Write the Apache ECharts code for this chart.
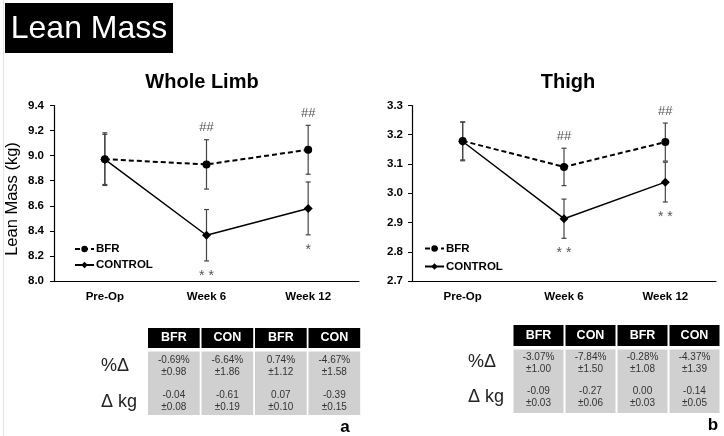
<!DOCTYPE html>
<html>
<head>
<meta charset="utf-8">
<script src="https://cdn.jsdelivr.net/npm/echarts@6/dist/echarts.min.js"></script>
<style>
html,body{margin:0;padding:0;background:#fff;}
#chart{width:724px;height:436px;}
</style>
</head>
<body>
<div id="chart"></div>
<script>
// ---------- data ----------
const categories = ['Pre-Op', 'Week 6', 'Week 12'];
const seriesNames = ['BFR', 'CONTROL'];

const limbBFR = [8.972, 8.930, 9.047];
const limbBFRerr = [0.210, 0.197, 0.195];
const limbCON = [8.970, 8.365, 8.579];
const limbCONerr = [0.200, 0.205, 0.211];
const limbTopMarks = ['', '##', '##'];
const limbBottomMarks = ['', '**', '*'];
const limbTicks = { min: 8.0, max: 9.4, interval: 0.2 };

const thighBFR = [3.179, 3.090, 3.175];
const thighBFRerr = [0.065, 0.064, 0.065];
const thighCON = [3.177, 2.913, 3.038];
const thighCONerr = [0.066, 0.067, 0.068];
const thighTopMarks = ['', '##', '##'];
const thighBottomMarks = ['', '**', '**'];
const thighTicks = { min: 2.7, max: 3.3, interval: 0.1 };

const tableHeaders = ['BFR', 'CON', 'BFR', 'CON'];
const rowLabels = ['%Δ', 'Δ kg'];
const limbPct = ['-0.69%', '-6.64%', '0.74%', '-4.67%'];
const limbPctSd = ['±0.98', '±1.86', '±1.12', '±1.58'];
const limbKg = ['-0.04', '-0.61', '0.07', '-0.39'];
const limbKgSd = ['±0.08', '±0.19', '±0.10', '±0.15'];
const thighPct = ['-3.07%', '-7.84%', '-0.28%', '-4.37%'];
const thighPctSd = ['±1.00', '±1.50', '±1.08', '±1.39'];
const thighKg = ['-0.09', '-0.27', '0.00', '-0.14'];
const thighKgSd = ['±0.03', '±0.06', '±0.03', '±0.05'];

// ---------- helpers ----------
const FONT = '"Liberation Sans", Arial, sans-serif';
const chart = echarts.init(document.getElementById('chart'), null, { renderer: 'canvas' });

function errData(mean, err) {
  return mean.map((m, i) => [i, m - err[i], m + err[i]]);
}
function errorSeries(idx, mean, err) {
  return {
    type: 'custom', xAxisIndex: idx, yAxisIndex: idx, z: 1, silent: true,
    encode: { x: 0, y: [1, 2] },
    data: errData(mean, err),
    renderItem: function (params, api) {
      const x = api.value(0);
      const top = api.coord([x, api.value(2)]);
      const bot = api.coord([x, api.value(1)]);
      const w = 2.5;
      const st = { stroke: '#444', lineWidth: 1.2 };
      return {
        type: 'group', children: [
          { type: 'line', shape: { x1: top[0], y1: top[1], x2: bot[0], y2: bot[1] }, style: st },
          { type: 'line', shape: { x1: top[0] - w, y1: top[1], x2: top[0] + w, y2: top[1] }, style: st },
          { type: 'line', shape: { x1: bot[0] - w, y1: bot[1], x2: bot[0] + w, y2: bot[1] }, style: st }
        ]
      };
    }
  };
}
function markSeries(idx, mean, err, marks, above) {
  return {
    type: 'custom', xAxisIndex: idx, yAxisIndex: idx, z: 5, silent: true,
    encode: { x: 0, y: 1 },
    data: mean.map((m, i) => [i, above ? m + err[i] : m - err[i]]),
    renderItem: function (params, api) {
      const p = api.coord([api.value(0), api.value(1)]);
      let txt = marks[params.dataIndex];
      if (!txt) return null;
      if (!above) txt = txt.split('').join(' ');
      return {
        type: 'text',
        style: {
          text: txt, x: p[0], y: above ? p[1] - 12 : p[1] + 15,
          align: 'center', verticalAlign: 'middle',
          font: (above ? '13px ' : '14px ') + FONT, fill: '#555'
        }
      };
    }
  };
}
function lineSeries(idx, name, data) {
  const bfr = name === 'BFR';
  return {
    type: 'line', name: name, xAxisIndex: idx, yAxisIndex: idx, z: 3,
    data: data,
    symbol: bfr ? 'circle' : 'diamond',
    symbolSize: bfr ? 8 : 9,
    itemStyle: { color: '#000' },
    lineStyle: { color: '#000', width: bfr ? 2 : 1.5, type: bfr ? [5, 3] : 'solid' },
    emphasis: { disabled: true },
    animation: false
  };
}
function xAxis(idx) {
  return {
    type: 'category', gridIndex: idx, data: categories,
    axisLine: { lineStyle: { color: '#000', width: 1.2 } },
    axisTick: { show: false },
    axisLabel: { fontFamily: FONT, fontWeight: 'bold', fontSize: 11.5, color: '#000', margin: 10 },
    splitLine: { show: false }
  };
}
function yAxis(idx, t, margin) {
  return {
    type: 'value', gridIndex: idx, min: t.min, max: t.max, interval: t.interval,
    axisLine: { show: true, lineStyle: { color: '#000', width: 1.2 } },
    axisTick: { show: true, length: 4, lineStyle: { color: '#000' } },
    axisLabel: { fontFamily: FONT, fontWeight: 'bold', fontSize: 11.5, color: '#000', margin: margin,
      formatter: v => v.toFixed(1) },
    splitLine: { show: false }
  };
}
function legend(left, top, gap) {
  return {
    data: seriesNames, orient: 'vertical', left: left, top: top,
    itemWidth: 19, itemHeight: 8, itemGap: gap, selectedMode: false,
    textStyle: { fontFamily: FONT, fontWeight: 'bold', fontSize: 11.5, color: '#000', padding: [0, 0, 0, -3] }
  };
}

// table graphics
function table(x0, step, colW, headTop, headH, bodyTop, bodyH, rowsY, vals, labelX, labelY, letter, letterPos) {
  const g = [];
  for (let i = 0; i < tableHeaders.length; i++) {
    const x = x0 + i * step;
    g.push({ type: 'rect', shape: { x: x, y: headTop, width: colW, height: headH }, style: { fill: '#000' } });
    g.push({ type: 'text', style: { text: tableHeaders[i], x: x + colW / 2, y: headTop + headH / 2,
      align: 'center', verticalAlign: 'middle', font: 'bold 12.5px ' + FONT, fill: '#fff' } });
    g.push({ type: 'rect', shape: { x: x, y: bodyTop, width: colW, height: bodyH }, style: { fill: '#d0d0d0' } });
    vals.forEach((arr, r) => {
      g.push({ type: 'text', style: { text: arr[i], x: x + colW / 2, y: rowsY[r],
        align: 'center', verticalAlign: 'middle', font: '10px ' + FONT, fill: '#333' } });
    });
  }
  rowLabels.forEach((lab, r) => {
    g.push({ type: 'text', style: { text: lab, x: labelX, y: labelY[r], align: 'left', verticalAlign: 'middle',
      font: '18px ' + FONT, fill: '#222' } });
  });
  g.push({ type: 'text', style: { text: letter, x: letterPos[0], y: letterPos[1], align: 'center', verticalAlign: 'middle',
    font: 'bold 17px ' + FONT, fill: '#000' } });
  return g;
}

const graphics = [
  { type: 'line', shape: { x1: 3.5, y1: 0, x2: 3.5, y2: 436 }, style: { stroke: '#e4e4e4', lineWidth: 1 } },
  { type: 'rect', shape: { x: 5, y: 3, width: 168, height: 50 }, style: { fill: '#000' } },
  { type: 'text', style: { text: 'Lean Mass', x: 89, y: 29, align: 'center', verticalAlign: 'middle',
    font: '32px ' + FONT, fill: '#fff' } },
  { type: 'text', style: { text: 'Whole Limb', x: 202, y: 82, align: 'center', verticalAlign: 'middle',
    font: 'bold 20px ' + FONT, fill: '#000' } },
  { type: 'text', style: { text: 'Thigh', x: 568, y: 82, align: 'center', verticalAlign: 'middle',
    font: 'bold 20px ' + FONT, fill: '#000' } },
  { type: 'text', rotation: Math.PI / 2, x: 12, y: 199,
    style: { text: 'Lean Mass (kg)', x: 0, y: 0, align: 'center', verticalAlign: 'middle',
    font: '16.5px ' + FONT, fill: '#000' } }
].concat(
  table(148, 53.5, 51.7, 328, 20, 351.5, 63.5, [360, 372, 395, 407.5],
    [limbPct, limbPctSd, limbKg, limbKgSd], 101, [366, 402], 'a', [345, 427])
).concat(
  table(513.5, 52, 50, 325, 21, 349.5, 63.5, [357, 369.5, 391.5, 403.5],
    [thighPct, thighPctSd, thighKg, thighKgSd], 468, [362, 397], 'b', [713, 425])
);

const option = {
  backgroundColor: '#fff',
  animation: false,
  grid: [
    { left: 54, top: 105.5, width: 305, height: 175.5 },
    { left: 412, top: 105.5, width: 304, height: 175.5 }
  ],
  xAxis: [xAxis(0), xAxis(1)],
  yAxis: [yAxis(0, limbTicks, 10), yAxis(1, thighTicks, 9)],
  legend: [legend(69, 238, 4), legend(419, 237.5, 6)],
  series: [
    errorSeries(0, limbBFR, limbBFRerr),
    errorSeries(0, limbCON, limbCONerr),
    lineSeries(0, 'BFR', limbBFR),
    lineSeries(0, 'CONTROL', limbCON),
    markSeries(0, limbBFR, limbBFRerr, limbTopMarks, true),
    markSeries(0, limbCON, limbCONerr, limbBottomMarks, false),
    errorSeries(1, thighBFR, thighBFRerr),
    errorSeries(1, thighCON, thighCONerr),
    lineSeries(1, 'BFR', thighBFR),
    lineSeries(1, 'CONTROL', thighCON),
    markSeries(1, thighBFR, thighBFRerr, thighTopMarks, true),
    markSeries(1, thighCON, thighCONerr, thighBottomMarks, false)
  ],
  graphic: graphics
};
chart.setOption(option);
</script>
</body>
</html>
